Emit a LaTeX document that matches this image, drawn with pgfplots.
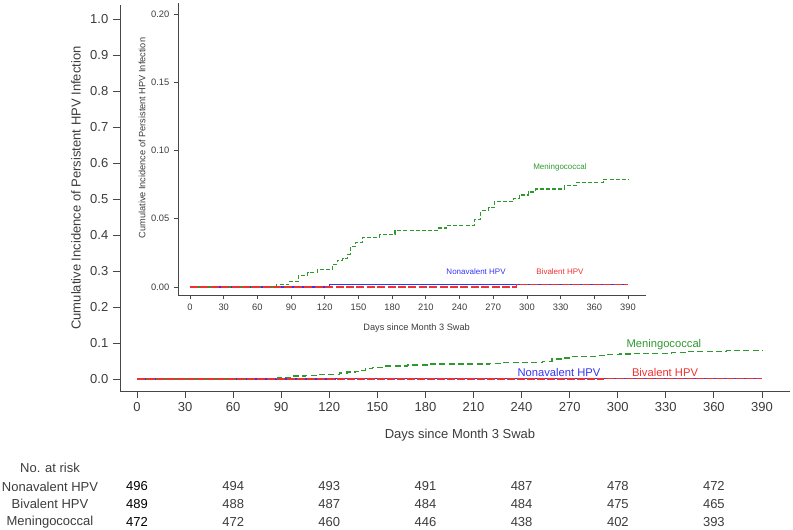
\documentclass[border=0pt]{standalone}
\usepackage{fontspec}
\setmainfont{Liberation Sans}
\usepackage{pgfplots}
\usepackage{pgfplotstable}
\pgfplotsset{compat=1.18}

\definecolor{axgray}{HTML}{474747}
\definecolor{txtgray}{HTML}{3C3C3C}
\definecolor{mgreen}{HTML}{2E9A2E}
\definecolor{nblue}{HTML}{3434F2}
\definecolor{bred}{HTML}{EE3232}

% Kaplan-Meier type step curves (day, cumulative incidence)
\pgfplotstableread{
day inc
0 0
77 0.0018
88 0.0039
96.5 0.0084
105 0.0106
113.3 0.0127
126.5 0.0167
131 0.0195
136 0.021
140.5 0.024
142.5 0.0298
147 0.0325
154 0.0364
169 0.0386
182.5 0.0413
220 0.0432
228.5 0.0452
253 0.0495
259 0.0557
265.8 0.058
271 0.0626
288 0.065
293 0.0674
301 0.0696
308 0.0718
333.5 0.0745
343.8 0.0766
368 0.079
390 0.079
}\mening
\pgfplotstableread{
day inc
0 0
124 0.0021
390 0.0021
}\nona
\pgfplotstableread{
day inc
0 0
291 0.0021
390 0.0021
}\biva

\pgfplotsset{
  km/.style={
    axis lines*=left, tick align=outside, scale only axis, clip=false,
    anchor=south west,
    axis line style={axgray, line width=0.7pt},
    major tick style={axgray, line width=0.6pt},
    ticklabel style={txtgray},
    /pgf/number format/assume math mode=true,
    xtick={0,30,60,90,120,150,180,210,240,270,300,330,360,390},
  },
}

\begin{document}
\begin{tikzpicture}
\path[use as bounding box] (0,0) rectangle (594.75pt,-396.75pt);

% main axis
\begin{axis}[km,
  at={(90pt,-293.25pt)}, width=502.5pt, height=289.5pt,
  xmin=-10.6, xmax=407.5, ymin=-0.0333, ymax=1.0389,
  ytick={0,0.1,0.2,0.3,0.4,0.5,0.6,0.7,0.8,0.9,1.0},
  yticklabel style={/pgf/number format/.cd, fixed, fixed zerofill, precision=1},
  major tick length=5.25pt,
  tick label style={font=\fontsize{9.75}{11}\selectfont},
]
\addplot[const plot, nblue, line width=1pt] table[x=day, y=inc] {\nona};
\addplot[const plot, mgreen, line width=1pt, dash pattern=on 4.5pt off 2.5pt] table[x=day, y=inc] {\mening};
\addplot[const plot, bred, line width=1pt, dash pattern=on 6pt off 1.5pt] table[x=day, y=inc] {\biva};
\node[mgreen, font=\fontsize{8.4}{10}\selectfont] at (axis cs:328.8,0.0950) {Meningococcal};
\node[nblue, font=\fontsize{8.4}{10}\selectfont] at (axis cs:263.3,0.0185) {Nonavalent HPV};
\node[bred, font=\fontsize{8.4}{10}\selectfont] at (axis cs:329.5,0.0185) {Bivalent HPV};
\end{axis}

% inset axis
\begin{axis}[km,
  at={(133.5pt,-221.25pt)}, width=351pt, height=219pt,
  xmin=-10.68, xmax=406.0, ymin=-0.00586, ymax=0.2080,
  ytick={0,0.05,0.10,0.15,0.20},
  yticklabel style={/pgf/number format/.cd, fixed, fixed zerofill, precision=2},
  major tick length=3pt,
  axis line style={axgray, line width=0.6pt},
  tick label style={font=\fontsize{7}{8}\selectfont},
]
\addplot[const plot, nblue, line width=0.8pt] table[x=day, y=inc] {\nona};
\addplot[const plot, mgreen, line width=0.8pt, dash pattern=on 3pt off 1.6pt] table[x=day, y=inc] {\mening};
\addplot[const plot, bred, line width=0.8pt, dash pattern=on 6pt off 1.8pt] table[x=day, y=inc] {\biva};
\node[mgreen, font=\fontsize{6}{7}\selectfont] at (axis cs:329.4,0.0877) {Meningococcal};
\node[nblue, font=\fontsize{6}{7}\selectfont] at (axis cs:254.7,0.0112) {Nonavalent HPV};
\node[bred, font=\fontsize{6}{7}\selectfont] at (axis cs:329.4,0.0112) {Bivalent HPV};
\end{axis}

% axis titles
\node[txtgray, rotate=90, font=\fontsize{9.75}{11}\selectfont] at (57pt,-141pt) {Cumulative Incidence of Persistent HPV Infection};
\node[txtgray, font=\fontsize{9.75}{11}\selectfont] at (345pt,-326.25pt) {Days since Month 3 Swab};
\node[txtgray, rotate=90, font=\fontsize{6.9}{8}\selectfont] at (106.5pt,-103.5pt) {Cumulative Incidence of Persistent HPV Infection};
\node[txtgray, font=\fontsize{6.9}{8}\selectfont] at (312.5pt,-246.25pt) {Days since Month 3 Swab};

% number at risk
\begin{scope}[every node/.style={txtgray, font=\fontsize{9.75}{11}\selectfont}]
\node at (37.5pt,-350.6pt) {No. at risk};
\node at (37.5pt,-364.8pt) {Nonavalent HPV};
\node at (37.5pt,-378.2pt) {Bivalent HPV};
\node at (37.5pt,-391.5pt) {Meningococcal};
\node[black] at (102.75pt,-364.8pt) {496};
\node[black] at (102.75pt,-378.2pt) {489};
\node[black] at (102.75pt,-391.5pt) {472};
\foreach \x/\a/\b/\c in {174.9/494/488/472, 247.0/493/487/460,
  319.1/491/484/446, 391.2/487/484/438, 463.4/478/475/402, 535.4/472/465/393} {
  \node at (\x pt,-364.8pt) {\a};
  \node at (\x pt,-378.2pt) {\b};
  \node at (\x pt,-391.5pt) {\c};
}
\end{scope}
\end{tikzpicture}
\end{document}
